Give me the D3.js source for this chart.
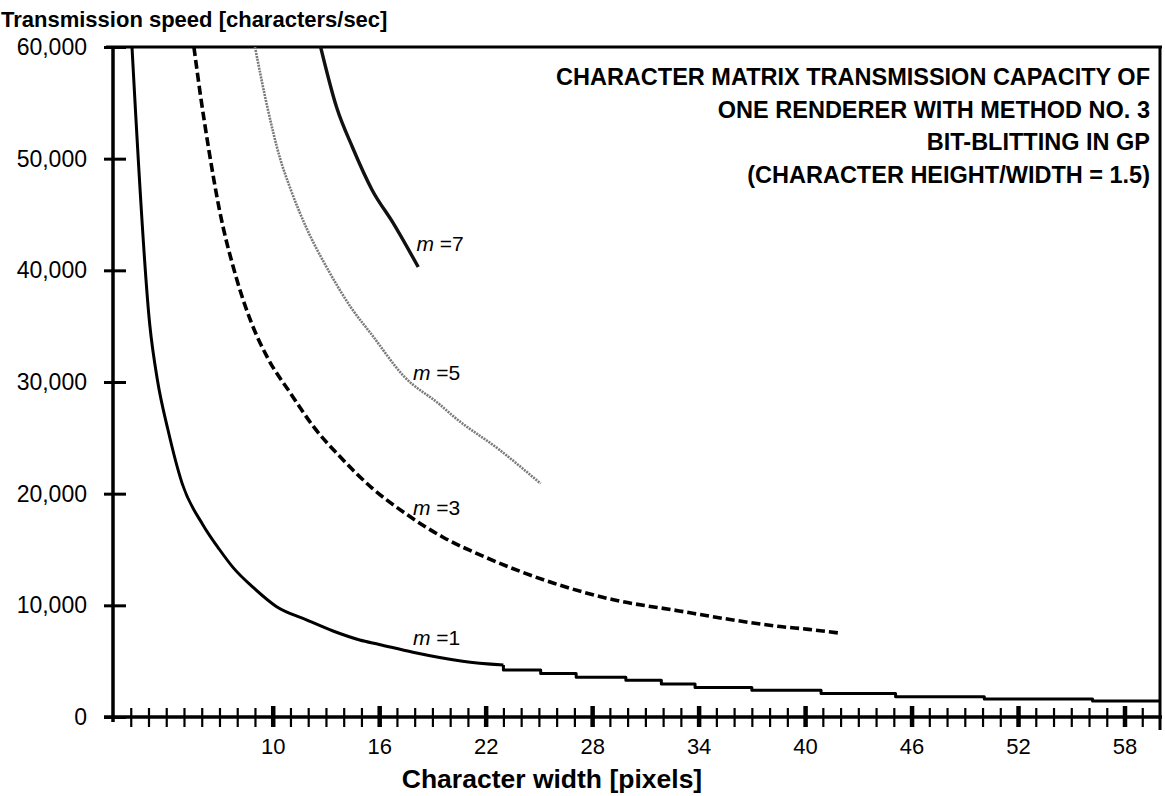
<!DOCTYPE html>
<html>
<head>
<meta charset="utf-8">
<script src="https://cdn.jsdelivr.net/npm/d3@7"></script>
<style>
  body { margin: 0; background: #fff; }
  svg { display: block; font-family: "Liberation Sans", Arial, Helvetica, sans-serif; }
</style>
</head>
<body>
<div id="chart"></div>
<script>
// chart values: [character width, characters/sec]
var m1 = [[2.07, 60000], [3.08, 35000], [3.5, 30200], [4.1, 25700], [4.9, 20900], [6.07, 17200],
  [7.0, 15000], [7.76, 13400], [8.9, 11600], [10.2, 9900], [11.9, 8700], [13.4, 7700],
  [14.9, 6900], [16.0, 6500], [17.9, 5800], [20.7, 5000], [23.0, 4650]];
// m = 1 goes stepwise from here on
var m1Tail = [[23.0, 4650],
  [23.0, 4200], [25.1, 4200], [25.1, 3900], [27.1, 3900], [27.1, 3550], [29.9, 3550],
  [29.9, 3300], [31.9, 3300], [31.9, 2950], [33.8, 2950], [33.8, 2650], [37.0, 2650],
  [37.0, 2400], [40.9, 2400], [40.9, 2100], [45.1, 2100], [45.1, 1820], [50.1, 1820],
  [50.1, 1610], [56.2, 1610], [56.2, 1430], [60, 1430]];
var m3 = [[5.56, 60000], [5.9, 56000], [6.4, 50800], [7.0, 45400], [7.9, 39600], [8.8, 35300],
  [9.7, 32200], [11.0, 29000], [12.3, 26000], [13.8, 23300], [15.6, 20500], [17.5, 18200],
  [19.6, 16100], [22.0, 14300], [25.8, 12000], [29.2, 10500], [32.9, 9500], [35.5, 8800],
  [38.6, 8100], [40.2, 7850], [42.0, 7500]];
var m5 = [[9.0, 60000], [9.7, 54600], [10.4, 50100], [11.0, 47300], [11.9, 43800], [13.1, 40100],
  [14.4, 36700], [15.6, 34200], [17.4, 30500], [19.4, 28000], [20.2, 26900], [22.8, 23900],
  [25.1, 20900]];
var m7 = [[12.7, 60000], [13.6, 54600], [14.5, 51000], [15.6, 47200], [16.8, 44200], [18.2, 40300]];

var yTicks = [0, 10000, 20000, 30000, 40000, 50000, 60000];
var xMajor = [10, 16, 22, 28, 34, 40, 46, 52, 58];
var xMinor = d3.range(2, 60);

var seriesNames = ["1", "3", "5", "7"];
var labelAnchors = [[17.9, 6450], [17.9, 18100], [17.9, 30200], [18.1, 41700]];

var titleLines = ["CHARACTER MATRIX TRANSMISSION CAPACITY OF", "ONE RENDERER WITH METHOD NO. 3",
  "BIT-BLITTING IN GP", "(CHARACTER HEIGHT/WIDTH = 1.5)"];

var W = 1165, H = 796;
var svg = d3.select("#chart").append("svg").attr("width", W).attr("height", H);

var x = d3.scaleLinear().domain([1, 60]).range([113, 1160]);
var y = d3.scaleLinear().domain([0, 60000]).range([717, 47]);

svg.append("defs").append("clipPath").attr("id", "plot")
  .append("rect").attr("x", 113).attr("y", 47).attr("width", 1047).attr("height", 670);

// frame: top line and right border
svg.append("line").attr("x1", 106).attr("x2", 1162).attr("y1", y(60000)).attr("y2", y(60000))
  .attr("stroke", "#000").attr("stroke-width", 3);
svg.append("line").attr("x1", x(60)).attr("x2", x(60)).attr("y1", 46).attr("y2", 730)
  .attr("stroke", "#000").attr("stroke-width", 3);

// Y axis, ticks cross the line
var yl = svg.append("g").attr("transform", "translate(" + x(1) + ",0)")
  .call(d3.axisLeft(y).tickValues(yTicks).tickSize(9).tickPadding(17)
    .tickFormat(d3.format(",")));
var yr = svg.append("g").attr("transform", "translate(" + x(1) + ",0)")
  .call(d3.axisRight(y).tickValues(yTicks).tickSize(13).tickFormat(""));
[yl, yr].forEach(function(g) {
  g.select(".domain").remove();
  g.selectAll("line").attr("stroke", "#000").attr("stroke-width", 3);
});
yl.selectAll("text").attr("font-size", 23).attr("fill", "#000");
svg.append("line").attr("x1", x(1)).attr("x2", x(1)).attr("y1", 46).attr("y2", 722)
  .attr("stroke", "#000").attr("stroke-width", 3.5);

// X axis: minor and major ticks crossing the line
var xb = svg.append("g").attr("transform", "translate(0," + y(0) + ")")
  .call(d3.axisBottom(x).tickValues(xMinor).tickSize(10).tickFormat(""));
var xt = svg.append("g").attr("transform", "translate(0," + y(0) + ")")
  .call(d3.axisTop(x).tickValues(xMinor).tickSize(9).tickFormat(""));
[xb, xt].forEach(function(g) {
  g.select(".domain").remove();
  g.selectAll("line").attr("stroke", "#000").attr("stroke-width", 2.2);
});
var xm = svg.append("g").attr("transform", "translate(0," + y(0) + ")")
  .call(d3.axisBottom(x).tickValues(xMajor).tickSize(10).tickPadding(11));
xm.select(".domain").remove();
xm.selectAll("line").attr("stroke", "#000").attr("stroke-width", 4.5).attr("y1", -11);
xm.selectAll("text").attr("font-size", 22).attr("fill", "#000");
svg.append("line").attr("x1", 104).attr("x2", 1162).attr("y1", y(0)).attr("y2", y(0))
  .attr("stroke", "#000").attr("stroke-width", 3.5);

// curves
var line = d3.line().x(function(d) { return x(d[0]); }).y(function(d) { return y(d[1]); });
var smooth = d3.line().curve(d3.curveMonotoneX)
  .x(function(d) { return x(d[0]); }).y(function(d) { return y(d[1]); });
var plot = svg.append("g").attr("clip-path", "url(#plot)").attr("fill", "none")
  .attr("stroke-linejoin", "round");
plot.append("path").datum(m1).attr("d", smooth).attr("stroke", "#000").attr("stroke-width", 3);
plot.append("path").datum(m1Tail).attr("d", line).attr("stroke", "#000").attr("stroke-width", 3);
plot.append("path").datum(m3).attr("d", smooth).attr("stroke", "#000").attr("stroke-width", 3.6)
  .attr("stroke-dasharray", "9,4");
plot.append("path").datum(m5).attr("d", smooth).attr("stroke", "#7a7a7a").attr("stroke-width", 2.6)
  .attr("stroke-dasharray", "2,1");
plot.append("path").datum(m7).attr("d", smooth).attr("stroke", "#111").attr("stroke-width", 3.4);

// series labels
seriesNames.forEach(function(n, i) {
  var t = svg.append("text").attr("x", x(labelAnchors[i][0])).attr("y", y(labelAnchors[i][1]))
    .attr("font-size", 21);
  t.append("tspan").attr("font-style", "italic").text("m");
  t.append("tspan").text(" =" + n);
});

// titles
svg.append("text").attr("x", 1).attr("y", 27).attr("font-size", 22).attr("font-weight", "bold")
  .text("Transmission speed [characters/sec]");
svg.append("text").attr("x", 552).attr("y", 788).attr("text-anchor", "middle")
  .attr("font-size", 26.5).attr("font-weight", "bold").text("Character width [pixels]");
svg.append("g").selectAll("text").data(titleLines).join("text")
  .attr("x", 1150).attr("y", function(d, i) { return 85 + i * 32.5; })
  .attr("text-anchor", "end").attr("font-size", 23.5).attr("font-weight", "bold")
  .text(function(d) { return d; });
</script>
</body>
</html>
